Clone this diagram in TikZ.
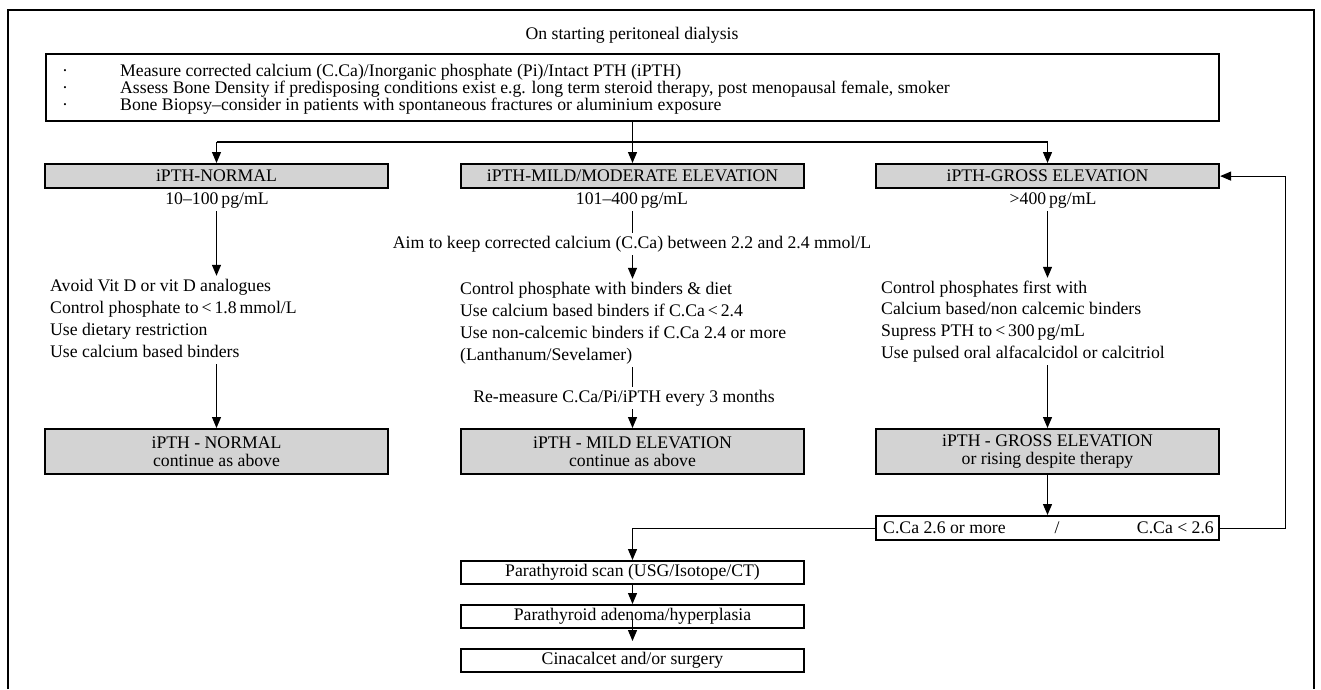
\documentclass[tikz,border=0pt]{standalone}
\usepackage{fontspec}
\setmainfont{Liberation Serif}
\usetikzlibrary{arrows.meta}
\definecolor{hdrgray}{RGB}{211,211,211}
\begin{document}
\begin{tikzpicture}[x=1pt,y=-1pt,
  every node/.style={font=\fontsize{17.7}{18}\selectfont, inner sep=0pt},
  txt/.style={inner xsep=0pt, inner ysep=3pt, text height=12pt, text depth=4pt},
  hdrbox/.style={draw, line width=2.2pt, fill=hdrgray, minimum width=343pt, minimum height=24pt, anchor=north},
  resbox/.style={draw, line width=2.2pt, fill=hdrgray, minimum width=343pt, minimum height=45pt, anchor=north, align=center},
  plainbox/.style={draw, line width=2.2pt, minimum width=343pt, minimum height=23pt, anchor=north},
  conn/.style={line width=1.2pt},
  arr/.style={line width=1.2pt, -{Triangle[length=11pt,width=9pt]}},
]
\useasboundingbox (0,0) rectangle (1321,689);
% outer frame
\draw[line width=2pt] (8,689) -- (8,10) -- (1314,10) -- (1314,689);
\node[txt] (title) at (632,35) {On starting peritoneal dialysis};

% top box
\node[draw, line width=2pt, minimum width=1173pt, minimum height=67pt, anchor=north west] (topbox) at (45,53) {};
\node[txt] (b1) at (65,72) {·};
\node[txt] (b2) at (65,89) {·};
\node[txt] (b3) at (65,106) {·};
\node[txt, anchor=west] (t1) at (120,72) {Measure corrected calcium (C.Ca)/Inorganic phosphate (Pi)/Intact PTH (iPTH)};
\node[txt, anchor=west] (t2) at (120,89) {Assess Bone Density if predisposing conditions exist e.g. long term steroid therapy, post menopausal female, smoker};
\node[txt, anchor=west] (t3) at (120,106) {Bone Biopsy–consider in patients with spontaneous fractures or aluminium exposure};

% header boxes
\node[hdrbox] (normh) at (216.5,163) {iPTH-NORMAL};
\node[hdrbox] (mildh) at (632.5,163) {iPTH-MILD/MODERATE ELEVATION};
\node[hdrbox] (grossh) at (1047.5,163) {iPTH-GROSS ELEVATION};

\coordinate (bar) at (0,142);
\draw[conn] (normh.north |- bar) -- (grossh.north |- bar);
\draw[arr] (normh.north |- bar) -- (normh.north);
\draw[arr] (grossh.north |- bar) -- (grossh.north);
\draw[arr] (topbox.south -| mildh.north) -- (mildh.north);

% ranges
\node[txt] (r1) at (217,200) {10–100\,pg/mL};
\node[txt] (r2) at (632,200) {101–400\,pg/mL};
\node[txt] (r3) at (1053,200) {>400\,pg/mL};

% column 1
\node[txt, anchor=west] (n1) at (50,287) {Avoid Vit D or vit D analogues};
\node[txt, anchor=west] (n2) at (50,309) {Control phosphate to\,<\,1.8\,mmol/L};
\node[txt, anchor=west] (n3) at (50,331) {Use dietary restriction};
\node[txt, anchor=west] (n4) at (50,353) {Use calcium based binders};
\draw[arr] (normh.south |- r1.south) -- (normh.south |- n1.north);
\node[resbox] (normr) at (216.5,428) {iPTH - NORMAL\\continue as above};
\draw[arr] (normh.south |- n4.south) -- (normr.north);

% column 2
\node[txt] (aim) at (632,244) {Aim to keep corrected calcium (C.Ca) between 2.2 and 2.4 mmol/L};
\draw[conn] (mildh.south |- r2.south) -- (mildh.south |- aim.north);
\node[txt, anchor=west] (m1) at (460,290) {Control phosphate with binders \& diet};
\node[txt, anchor=west] (m2) at (460,312) {Use calcium based binders if C.Ca\,<\,2.4};
\node[txt, anchor=west] (m3) at (460,334) {Use non-calcemic binders if C.Ca 2.4 or more};
\node[txt, anchor=west] (m4) at (460,356) {(Lanthanum/Sevelamer)};
\draw[arr] (mildh.south |- aim.south) -- (mildh.south |- m1.north);
\node[txt] (re) at (624,398) {Re-measure C.Ca/Pi/iPTH every 3 months};
\node[resbox] (mildr) at (632.5,428) {iPTH - MILD ELEVATION\\continue as above};
\draw[conn] (mildr.north |- m4.south) -- (mildr.north |- re.north);
\draw[arr] (mildr.north |- re.south) -- (mildr.north);

% column 3
\node[txt, anchor=west] (g1) at (881,289) {Control phosphates first with};
\node[txt, anchor=west] (g2) at (881,310) {Calcium based/non calcemic binders};
\node[txt, anchor=west] (g3) at (881,332) {Supress PTH to\,<\,300\,pg/mL};
\node[txt, anchor=west] (g4) at (881,354) {Use pulsed oral alfacalcidol or calcitriol};
\draw[arr] (grossh.south |- r3.south) -- (grossh.south |- g1.north);
\node[resbox] (grossr) at (1047.5,428) {iPTH - GROSS ELEVATION\\or rising despite therapy};
\draw[arr] (grossr.north |- g4.south) -- (grossr.north);

% calcium split box
\node[plainbox, minimum height=24pt] (ccab) at (1047.5,515) {};
\node[txt, anchor=west] (ccl) at (883,529) {C.Ca 2.6 or more};
\node[txt] (ccs) at (1057,529) {/};
\node[txt, anchor=east] (ccr) at (1214,529) {C.Ca < 2.6};
\draw[arr] (grossr.south) -- (ccab.north);
\draw[arr] (ccab.east) -- ++(65,0) |- (grossh.east);

% bottom chain
\node[plainbox] (scan) at (632.5,560) {Parathyroid scan (USG/Isotope/CT)};
\node[plainbox] (aden) at (632.5,604) {Parathyroid adenoma/hyperplasia};
\node[plainbox] (cina) at (632.5,648) {Cinacalcet and/or surgery};
\draw[arr] (ccab.west) -| (scan.north);
\draw[arr] (scan.south) -- (aden.north);
\draw[arr] ([yshift=10pt]aden.south) -- ([yshift=7pt]cina.north);
\end{tikzpicture}
\end{document}
